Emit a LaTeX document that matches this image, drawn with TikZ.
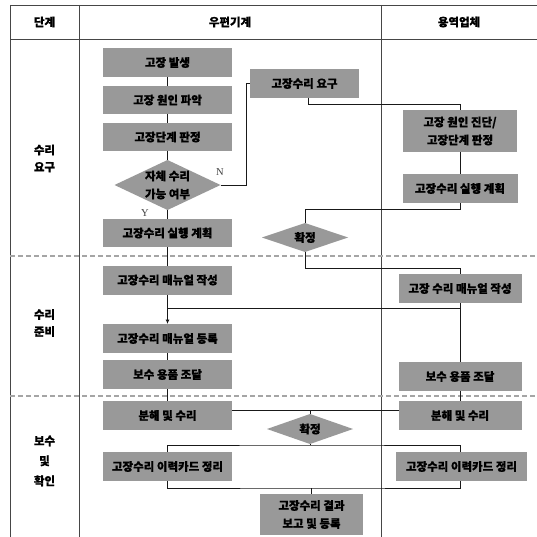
\documentclass[tikz,border=0pt]{standalone}
\usepackage{fontspec}
\setmainfont{Noto Sans CJK KR}[BoldFeatures={FakeBold=0.6}]
\newfontfamily\nyfont{Liberation Serif}
\usetikzlibrary{shapes.geometric,arrows.meta}
\definecolor{boxgray}{RGB}{153,153,153}
\definecolor{dashgray}{RGB}{165,165,165}
\definecolor{framegray}{RGB}{70,70,70}
\definecolor{linek}{RGB}{25,25,25}
\begin{document}
\begin{tikzpicture}[x=1pt,y=-1pt,
  every node/.style={inner sep=0pt, outer sep=0pt},
  txt/.style={font=\fontsize{11.5}{18}\selectfont\bfseries, align=center},
  procbox/.style={txt, fill=boxgray, minimum height=29pt},
  decbox/.style={diamond, fill=boxgray},
  phase/.style={font=\fontsize{11.5}{17}\selectfont\bfseries, align=center},
  frame/.style={draw=framegray, line width=0.9pt},
  sepline/.style={draw=dashgray, line width=1.6pt, dash pattern=on 5pt off 3pt},
  conn/.style={draw=linek, line width=0.8pt},
  yn/.style={font=\nyfont\fontsize{10.5}{12}\selectfont, text=black!75}]
\useasboundingbox (0,0) rectangle (537,537);
\fill[white] (0,0) rectangle (537,537);

% table
\draw[frame] (10,5) -- (537,5);
\draw[frame] (10,39) -- (537,39);
\draw[frame] (10,5) -- (10,537);
\draw[frame] (79,5) -- (79,537);
\draw[frame] (381,5) -- (381,537);
\draw[sepline] (10,256) -- (537,256);
\draw[sepline] (10,396) -- (537,396);

\node[phase] (h1) at (44.5,22) {단계};
\node[phase] (h2) at (230,22) {우편기계};
\node[phase] (h3) at (459,22) {용역업체};

\node[phase] (p1) at (44.5,158.5) {수리\\요구};
\node[phase] (p2) at (44.5,323) {수리\\준비};
\node[phase, font=\fontsize{11.5}{20}\selectfont\bfseries] (p3) at (44.5,461) {보수\\및\\확인};

% left column
\node[procbox, minimum width=129pt] (n1) at (167.5,62.5) {고장 발생};
\node[procbox, minimum width=129pt, minimum height=28pt] (n2) at (167.5,100) {고장 원인 파악};
\node[procbox, minimum width=129pt, minimum height=28pt] (n3) at (167.5,137) {고장단계 판정};
\node[decbox, minimum width=106pt, minimum height=50pt,
      label={[txt]center:자체 수리\\가능 여부}] (d1) at (167.5,185) {};
\node[procbox, minimum width=129pt, minimum height=28pt] (n4) at (167.5,233) {고장수리 실행 계획};
\node[procbox, minimum width=129pt] (n5) at (167.5,280) {고장수리 매뉴얼 작성};
\node[procbox, minimum width=129pt] (n6) at (167.5,338.5) {고장수리 매뉴얼 등록};
\node[procbox, minimum width=129pt] (n7) at (167.5,374.5) {보수 용품 조달};
\node[procbox, minimum width=129pt] (n8) at (167.5,415.5) {분해 및 수리};
\node[procbox, minimum width=129pt] (n9) at (167.5,466.5) {고장수리 이력카드 정리};
\node[procbox, minimum width=103pt, minimum height=41pt] (n10) at (311.5,514.5) {고장수리 결과\\보고 및 등록};

% middle
\node[procbox, minimum width=109pt] (r0) at (304.5,83.5) {고장수리 요구};
\node[decbox, minimum width=86pt, minimum height=29pt,
      label={[txt]center:확정}] (d2) at (305,237.5) {};
\node[decbox, minimum width=86pt, minimum height=30pt,
      label={[txt]center:확정}] (d3) at (310,429) {};

% right column
\node[procbox, minimum width=114pt, minimum height=42pt] (s1) at (460,131) {고장 원인 진단/\\고장단계 판정};
\node[procbox, minimum width=115pt] (s2) at (460,188.5) {고장수리 실행 계획};
\node[procbox, minimum width=123pt] (s3) at (460,288.5) {고장 수리 매뉴얼 작성};
\node[procbox, minimum width=123pt] (s4) at (460,376.5) {보수 용품 조달};
\node[procbox, minimum width=123pt] (s5) at (460,415.5) {분해 및 수리};
\node[procbox, minimum width=131pt] (s6) at (461.5,466.5) {고장수리 이력카드 정리};

% labels
\node[yn] (lN) at (220,172) {N};
\node[yn] (lY) at (145,213) {Y};

% connectors
\draw[conn] (n1.south) -- (n2.north);
\draw[conn] (n2.south) -- (n3.north);
\draw[conn] (n3.south) -- (d1.north);
\draw[conn] (d1.south) -- (n4.north);
\draw[conn] (n4.south) -- (n5.north);
\draw[conn, -{Latex[length=4.5pt,width=4pt]}] (n5.south) -- (n6.north);
\draw[conn] (n6.south) -- (n7.north);
\draw[conn] (n7.south) -- (n8.north);

\coordinate (nturn) at (246,83.5);
\draw[conn] (d1.east) -| (nturn) -- (r0.west);

\coordinate (c1) at (308,104);
\draw[conn] (r0.south -| c1) -- (c1) -| (s1.north);
\draw[conn] (s1.south) -- (s2.north);
\coordinate (c3) at (305,209);
\draw[conn] (s2.south) |- (c3) -- (d2.north);
\coordinate (c4) at (305,268);
\draw[conn] (d2.south) -- (c4) -| (s3.north);
\coordinate (j3) at (167.5,308);
\draw[conn] (s3.south) |- (j3);
\draw[conn] (s3.south) -- (s4.north);
\draw[conn] (s4.south) -- (s5.north);

\coordinate (j4) at (310,410);
\draw[conn] (n8.east |- j4) -- (s5.west |- j4);
\draw[conn] (j4) -- (d3.north);
\coordinate (j5) at (310,445);
\draw[conn] (d3.south) -- (j5);
\draw[conn] (n9.north) |- (j5) -| (s6.north -| s5.south);
\coordinate (j6) at (311.5,488);
\draw[conn] (n9.south) |- (j6) -| (s6.south -| s5.south);
\draw[conn] (j6) -- (n10.north);
\end{tikzpicture}
\end{document}
